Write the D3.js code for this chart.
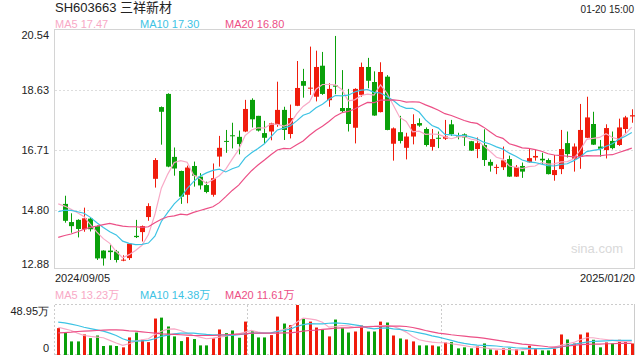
<!DOCTYPE html>
<html>
<head>
<meta charset="utf-8">
<script src="https://cdn.jsdelivr.net/npm/d3@7"></script>
<style>
  body { margin: 0; background: #fff; }
  svg { display: block; font-family: "Liberation Sans", Arial, "Noto Sans CJK SC", sans-serif; }
</style>
</head>
<body>
<div id="chart"></div>
<script>
// header texts
const title = "SH603663 三祥新材";
const timeLabel = "01-20 15:00";
const dateLabels = ["2024/09/05", "2025/01/20"];
const priceTicks = [20.54, 18.625, 16.71, 14.795, 12.88];
const priceTickLabels = ["20.54", "18.63", "16.71", "14.80", "12.88"];
const volTicks = [48.95, 0];
const volTickLabels = ["48.95万", "0"];
const maNames = ["MA5", "MA10", "MA20"];
const maPriceLegend = ["17.47", "17.30", "16.80"];
const maVolLegend = ["13.23万", "14.38万", "11.61万"];

// daily candles, slot 1..89 (slot 0 only has volume + averages)
const open = [14.99,14.41,14.48,14.18,14.52,14.28,13.50,13.50,13.47,13.18,13.26,13.97,14.09,14.57,15.79,18.08,18.50,16.49,16.04,15.28,
  16.20,15.86,15.59,15.28,16.50,17.00,17.18,17.13,17.30,18.31,17.80,17.25,17.30,17.51,17.99,17.22,18.12,18.91,18.67,18.41,
  19.40,18.30,18.77,18.05,18.05,17.42,18.47,19.36,18.88,17.92,19.05,16.91,17.28,16.78,17.14,17.57,17.38,16.81,17.10,17.07,
  17.53,17.18,17.21,16.99,16.74,16.87,16.33,16.14,16.16,16.42,15.86,16.20,16.32,16.47,16.43,16.39,15.91,16.10,16.93,16.43,
  16.50,17.10,17.54,16.82,16.71,17.00,16.87,17.38,17.78];
const high = [15.25,14.69,14.50,14.87,14.56,14.30,13.51,13.68,13.52,13.35,13.74,14.48,14.30,15.01,16.45,18.10,18.52,16.79,16.05,16.21,
  16.34,15.97,15.70,16.28,17.16,17.35,17.58,17.33,18.31,18.36,17.80,17.64,17.58,18.89,18.09,18.16,19.55,19.30,20.01,19.88,
  19.84,18.84,20.35,19.26,18.66,18.68,19.50,19.65,19.22,19.51,19.10,17.43,17.80,17.26,17.85,17.72,17.43,17.38,17.30,17.67,
  17.67,17.26,17.24,17.00,17.11,17.37,16.41,16.25,16.82,16.53,16.23,16.31,16.76,16.71,16.62,16.44,16.55,17.35,17.30,16.92,
  18.18,18.41,17.93,17.03,17.53,17.30,17.71,17.80,18.01];
const low = [14.39,14.07,13.92,14.10,14.11,13.20,13.02,13.20,13.12,13.16,13.20,13.90,13.79,14.45,15.51,16.88,16.16,15.89,14.99,15.01,
  15.54,15.45,15.33,15.22,16.18,16.62,16.76,16.57,17.28,17.43,17.30,16.92,17.02,17.45,17.03,17.08,18.11,18.38,18.47,18.26,
  18.47,18.09,18.49,17.90,17.30,16.92,18.41,18.68,17.80,17.91,17.34,16.37,16.92,16.41,16.89,17.45,16.82,16.69,16.77,17.03,
  17.16,17.05,16.84,16.68,16.45,16.20,16.02,15.94,16.07,15.85,15.85,15.82,16.31,16.37,16.23,15.93,15.73,15.94,16.47,16.02,
  16.11,17.09,16.87,16.50,16.44,16.73,16.84,17.25,17.58];
const close = [14.45,14.28,14.19,14.53,14.18,13.25,13.25,13.45,13.20,13.21,13.72,13.93,14.28,14.92,16.39,17.93,16.18,16.12,15.22,16.15,
  15.89,15.58,15.37,15.81,16.78,16.97,17.16,16.90,18.02,17.69,17.33,17.10,17.56,17.99,17.35,17.73,18.69,18.76,18.70,19.36,
  18.50,18.66,18.73,17.95,17.54,18.66,19.36,18.92,17.81,19.20,17.35,17.40,17.00,17.14,17.54,17.49,16.87,17.06,17.07,17.14,
  17.22,17.14,17.11,16.69,16.93,16.39,16.21,16.17,16.38,15.86,16.17,16.02,16.45,16.52,16.38,15.94,16.07,16.74,16.58,16.82,
  17.35,17.75,16.88,16.75,17.41,16.77,17.43,17.75,17.82];

// price averages, slot 0..89
const ma5 = [14.99,14.92,14.82,14.71,14.58,14.33,14.09,13.88,13.73,13.47,13.27,13.37,13.50,13.67,14.01,14.65,15.49,15.94,16.31,16.37,
  16.32,15.91,15.79,15.64,15.76,15.89,16.10,16.42,16.72,17.17,17.35,17.42,17.41,17.54,17.53,17.47,17.55,17.86,18.10,18.25,
  18.65,18.80,18.80,18.79,18.64,18.28,18.31,18.45,18.49,18.46,18.79,18.53,18.14,17.75,17.62,17.29,17.31,17.21,17.22,17.21,
  17.13,17.07,17.13,17.14,17.06,17.02,16.85,16.67,16.48,16.42,16.20,16.16,16.12,16.18,16.20,16.31,16.26,16.27,16.33,16.34,
  16.43,16.71,17.05,17.08,17.11,17.23,17.11,17.05,17.22,17.44];
const ma10 = [14.74,14.79,14.78,14.74,14.69,14.56,14.39,14.24,14.10,14.00,13.80,13.73,13.69,13.70,13.74,13.96,14.43,14.72,14.99,15.19,
  15.48,15.70,15.87,15.98,16.06,16.10,16.01,16.11,16.18,16.46,16.62,16.76,16.91,17.13,17.35,17.41,17.48,17.64,17.82,17.89,
  18.06,18.17,18.33,18.45,18.44,18.46,18.56,18.62,18.64,18.55,18.53,18.42,18.29,18.12,18.04,18.04,17.92,17.67,17.49,17.41,
  17.21,17.19,17.17,17.18,17.13,17.07,16.96,16.90,16.81,16.74,16.61,16.51,16.39,16.33,16.31,16.26,16.21,16.20,16.25,16.27,
  16.37,16.49,16.66,16.70,16.73,16.83,16.91,17.05,17.15,17.27];
const ma20 = [13.92,13.98,14.03,14.10,14.18,14.24,14.28,14.33,14.37,14.32,14.28,14.26,14.26,14.24,14.26,14.39,14.50,14.58,14.61,14.66,
  14.64,14.72,14.78,14.84,14.90,15.03,15.22,15.42,15.59,15.83,16.05,16.23,16.39,16.56,16.71,16.76,16.75,16.88,17.00,17.18,
  17.34,17.47,17.62,17.79,17.90,17.94,18.02,18.13,18.23,18.22,18.30,18.30,18.31,18.29,18.24,18.25,18.24,18.15,18.07,17.98,
  17.87,17.81,17.73,17.65,17.59,17.56,17.44,17.29,17.15,17.08,16.91,16.85,16.78,16.76,16.72,16.67,16.59,16.55,16.53,16.51,
  16.49,16.50,16.53,16.52,16.52,16.55,16.56,16.63,16.70,16.77];

// volume (万), slot 0..89
const volume = [26.3,21.7,13.3,13.3,20.1,16.5,19.1,8.8,9.4,8.8,7.5,17.2,22.0,14.9,12.6,35.7,36.6,27.9,18.2,13.6,
  17.5,15.6,9.4,9.4,16.5,25.0,21.4,24.0,16.9,32.7,23.3,17.2,17.2,19.5,37.6,30.8,29.2,48.95,36.0,32.7,
  26.9,25.0,18.2,34.7,26.3,22.0,23.0,28.9,23.0,23.0,32.7,31.8,19.1,16.2,15.2,13.3,9.4,9.4,9.4,8.4,
  12.3,12.6,6.5,7.5,6.5,8.4,11.3,5.5,4.5,6.5,6.5,5.5,3.6,9.1,6.8,4.5,4.5,6.2,20.1,15.2,
  11.3,20.1,22.0,14.9,7.5,12.3,11.3,14.9,13.3,11.3];
const firstVolUp = true;
const vma5 = [27.2,25.6,24.0,21.4,19.1,18.2,17.5,16.9,14.3,11.7,9.4,11.0,13.6,14.9,15.9,20.1,23.3,25.3,25.6,24.0,
  21.4,19.1,17.5,15.9,16.5,17.5,18.5,19.8,20.7,22.4,24.0,22.4,21.4,21.4,23.3,25.0,27.2,32.1,36.0,35.3,
  34.4,32.1,27.2,27.9,28.9,28.5,27.2,27.2,27.9,28.2,28.9,28.9,27.9,25.6,22.4,18.2,14.9,13.6,12.6,12.0,
  12.0,11.0,10.1,9.1,8.1,7.8,7.1,6.2,5.8,5.5,5.2,4.9,5.2,5.8,6.2,6.2,6.5,7.8,9.4,11.0,
  12.3,14.9,16.9,16.9,15.9,15.2,14.3,13.3,13.0,13.6];
const vma10 = [32.1,31.4,30.2,28.9,27.2,25.9,24.6,23.3,21.4,19.1,15.9,13.9,13.6,13.9,14.3,15.9,18.2,19.5,20.7,21.4,
  21.4,21.4,20.7,20.1,19.8,19.8,19.5,19.1,19.8,20.7,21.4,21.4,21.4,21.7,23.0,24.0,25.3,27.9,29.8,30.8,
  30.5,30.5,31.1,31.4,31.1,30.5,29.5,28.5,26.6,25.6,26.3,26.6,25.6,25.0,24.0,23.0,21.7,20.4,18.8,17.5,
  15.9,14.3,12.6,11.3,10.4,9.7,9.4,9.1,8.8,8.1,7.8,7.1,6.8,6.5,6.2,6.2,6.2,6.8,7.8,9.1,
  10.4,11.7,12.6,13.3,13.6,13.9,14.3,14.3,14.3,14.3];
const vma20 = [21.7,22.0,22.4,23.0,23.3,23.7,24.0,24.3,24.6,24.6,24.3,23.7,23.3,22.7,22.0,21.4,20.7,20.4,20.1,19.8,
  19.5,19.1,19.1,19.1,19.1,19.5,19.8,20.1,20.4,20.7,21.4,21.4,21.4,21.4,21.4,21.7,21.7,22.4,23.3,24.0,
  24.3,25.0,25.6,26.3,26.6,26.6,26.9,27.2,27.6,27.9,27.9,28.2,28.2,28.2,27.9,26.9,25.6,24.0,22.7,21.4,
  20.7,19.8,19.1,18.5,17.8,17.2,16.5,15.6,14.6,13.6,12.6,11.7,10.7,10.1,9.4,8.8,8.1,7.8,8.1,8.8,
  9.4,10.1,10.4,10.7,10.7,11.0,11.0,11.3,11.3,11.3];

const upColor = "#f01c0c", downColor = "#0aa00a";
const maColors = ["#f8a9c6", "#3dc3e4", "#ec4f86"];

const width = 640, height = 360;
const left = 55, right = 635;
const priceTop = 30, priceBottom = 270;
const volTop = 305, volBottom = 355;

const svg = d3.select("#chart").append("svg")
    .attr("width", width)
    .attr("height", height);

const x = d3.scaleBand().domain(d3.range(volume.length)).range([left, right]);
const cx = i => x(i) + x.bandwidth() / 2;
const y = d3.scaleLinear().domain([12.88, 20.54]).range([priceBottom, priceTop]);
const yv = d3.scaleLinear().domain([0, 48.95]).range([volBottom, volTop]);

// header
svg.append("text").attr("x", 55).attr("y", 12).attr("font-size", 13).attr("fill", "#222").text(title);
svg.append("text").attr("x", 634).attr("y", 13).attr("font-size", 10).attr("fill", "#222")
    .attr("text-anchor", "end").text(timeLabel);

function legend(yPos, values) {
  maNames.forEach((n, k) => {
    svg.append("text")
        .attr("x", 55 + k * 85).attr("y", yPos)
        .attr("font-size", 11).attr("fill", maColors[k])
        .text(n + " " + values[k]);
  });
}
legend(27.5, maPriceLegend);
legend(299, maVolLegend);

// price panel grid + frame
svg.append("g").selectAll("line")
    .data(priceTicks.slice(1, -1))
    .join("line")
      .attr("x1", left).attr("x2", right)
      .attr("y1", d => Math.round(y(d)) + 0.5).attr("y2", d => Math.round(y(d)) + 0.5)
      .attr("stroke", "#ddd").attr("stroke-dasharray", "2,2");
svg.append("rect")
    .attr("x", left - 0.5).attr("y", priceTop - 0.5)
    .attr("width", right - left).attr("height", priceBottom - priceTop - 1)
    .attr("fill", "none").attr("stroke", "#d4d4d4");

// price axis labels
const yAxis = svg.append("g")
    .attr("transform", `translate(${left - 3},0)`)
    .call(d3.axisLeft(y).tickValues(priceTicks).tickSize(0)
      .tickFormat((d, i) => priceTickLabels[i]));
yAxis.select(".domain").remove();
yAxis.selectAll("text").attr("font-size", 11).attr("fill", "#222").attr("font-family", null);
yAxis.selectAll(".tick").filter((d, i) => i === 0).select("text").attr("dy", "0.8em");
yAxis.selectAll(".tick").filter((d, i) => i === priceTicks.length - 1).select("text").attr("dy", "-0.25em");

// watermark
svg.append("text").attr("x", 623).attr("y", 253).attr("text-anchor", "end")
    .attr("font-size", 13).attr("fill", "#d9d9d9").text("sina.com");

// candles
const candles = close.map((c, k) => ({i: k + 1, o: open[k], h: high[k], l: low[k], c: c}));
const cg = svg.append("g");
cg.selectAll("line")
    .data(candles)
    .join("line")
      .attr("x1", d => Math.round(cx(d.i)) + 0.5).attr("x2", d => Math.round(cx(d.i)) + 0.5)
      .attr("y1", d => y(d.h)).attr("y2", d => y(d.l))
      .attr("stroke", d => d.c >= d.o ? upColor : downColor);
cg.selectAll("rect")
    .data(candles)
    .join("rect")
      .attr("x", d => Math.round(cx(d.i)) - 2)
      .attr("width", 5)
      .attr("y", d => y(Math.max(d.o, d.c)))
      .attr("height", d => Math.max(1, Math.abs(y(d.o) - y(d.c))))
      .attr("fill", d => d.c >= d.o ? upColor : downColor);

// moving averages
function drawLine(values, scale, color) {
  svg.append("path")
      .datum(values)
      .attr("fill", "none")
      .attr("stroke", color)
      .attr("stroke-width", 1.2)
      .attr("d", d3.line()
          .x((d, i) => cx(i))
          .y(d => scale(d)));
}
[ma5, ma10, ma20].forEach((m, k) => drawLine(m, y, maColors[k]));

// dates
svg.append("text").attr("x", 55).attr("y", 282).attr("font-size", 11).attr("fill", "#222").text(dateLabels[0]);
svg.append("text").attr("x", 635).attr("y", 282).attr("font-size", 11).attr("fill", "#222")
    .attr("text-anchor", "end").text(dateLabels[1]);

// volume panel frame
const vg = svg.append("g");
[volTop, volBottom].forEach(v => {
  vg.append("line").attr("x1", left).attr("x2", right - 1)
      .attr("y1", v - 0.5).attr("y2", v - 0.5)
      .attr("stroke", "#ccc").attr("stroke-dasharray", "2,2");
});
[left, left + (right - left) / 3, left + 2 * (right - left) / 3].forEach(v => {
  vg.append("line").attr("x1", Math.round(v) - 0.5).attr("x2", Math.round(v) - 0.5)
      .attr("y1", volTop).attr("y2", volBottom)
      .attr("stroke", "#ccc").attr("stroke-dasharray", "2,2");
});
vg.append("line").attr("x1", right - 0.5).attr("x2", right - 0.5)
    .attr("y1", volTop - 1).attr("y2", volBottom)
    .attr("stroke", "#ccc");

const vAxis = svg.append("g")
    .attr("transform", `translate(${left - 3},0)`)
    .call(d3.axisLeft(yv).tickValues(volTicks).tickSize(0)
      .tickFormat((d, i) => volTickLabels[i]));
vAxis.select(".domain").remove();
vAxis.selectAll("text").attr("font-size", 11).attr("fill", "#222").attr("font-family", null);
vAxis.selectAll(".tick").filter((d, i) => i === 0).select("text").attr("dy", "0.85em");
vAxis.selectAll(".tick").filter((d, i) => i === 1).select("text").attr("dy", "-0.3em");

// volume bars
svg.append("g").selectAll("rect")
    .data(volume)
    .join("rect")
      .attr("x", (d, i) => Math.round(cx(i)) - 1)
      .attr("width", 3)
      .attr("y", d => yv(d))
      .attr("height", d => volBottom - yv(d))
      .attr("fill", (d, i) => {
        const up = i === 0 ? firstVolUp : close[i - 1] >= open[i - 1];
        return up ? upColor : downColor;
      });

[vma5, vma10, vma20].forEach((m, k) => drawLine(m, yv, maColors[k]));
</script>
</body>
</html>
